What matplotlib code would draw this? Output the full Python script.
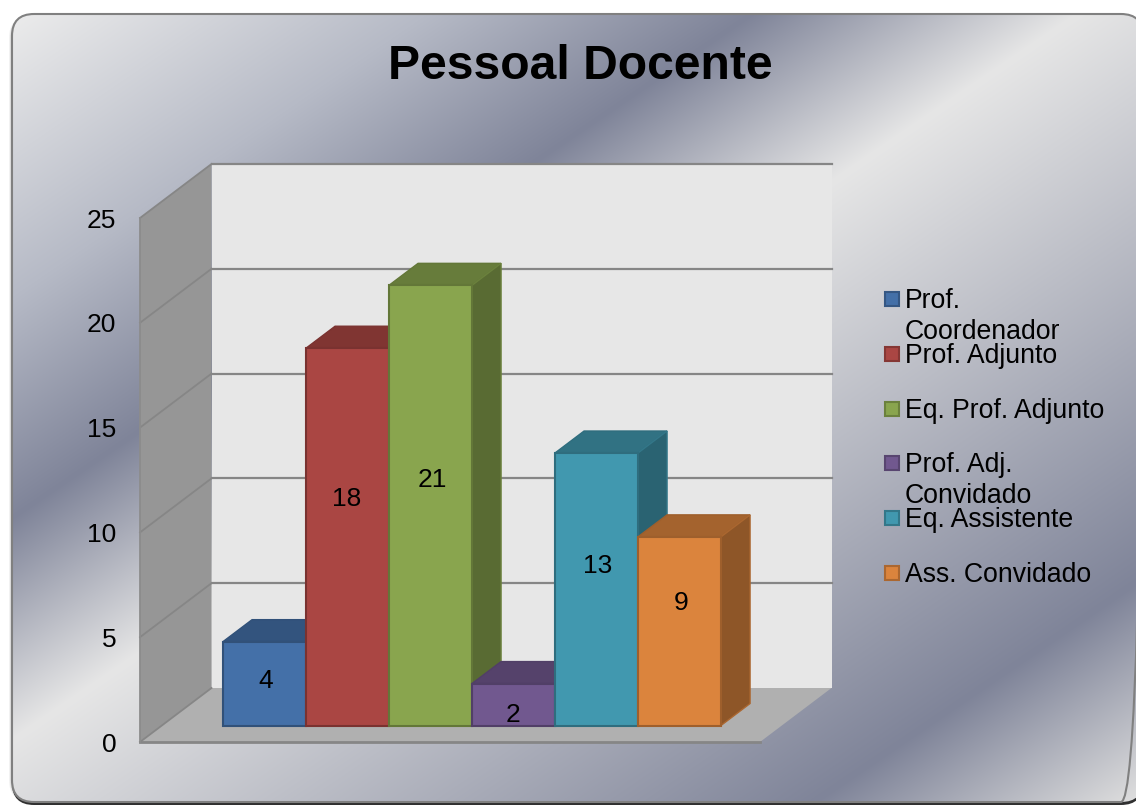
import numpy as np
import matplotlib
matplotlib.use("Agg")
import matplotlib.pyplot as plt
from matplotlib.colors import to_rgb
from matplotlib.patches import FancyBboxPatch, Polygon
from matplotlib.transforms import Affine2D, IdentityTransform

plt.rcParams['font.family'] = ['Liberation Sans', 'DejaVu Sans']

TITLE = "Pessoal Docente"
series_names = ["Prof. Coordenador", "Prof. Adjunto", "Eq. Prof. Adjunto",
                "Prof. Adj. Convidado", "Eq. Assistente", "Ass. Convidado"]
legend_lines = [["Prof.", "Coordenador"], ["Prof. Adjunto"], ["Eq. Prof. Adjunto"],
                ["Prof. Adj.", "Convidado"], ["Eq. Assistente"], ["Ass. Convidado"]]
values = [4, 18, 21, 2, 13, 9]
label_heights = [2.1, 10.8, 11.7, 0.52, 7.6, 5.86]
label_shift = [0.02, -0.01, 0.02, 0.0, 0.01, 0.02]
y_ticks = [0, 5, 10, 15, 20, 25]
colors = ["#4470A8", "#AA4643", "#89A54E", "#71588F", "#4198AF", "#DB843D"]

W, H = 1136, 805
fig = plt.figure(figsize=(W / 100, H / 100), dpi=100, facecolor="white")

# ---------- background panel ----------
bg = fig.add_axes([0, 0, 1, 1], zorder=0)
bg.set_xlim(0, W)
bg.set_ylim(H, 0)
bg.axis("off")

stops_t = [35, 450, 775, 1100, 1995, 2312]
stops_c = ["#ececec", "#b6bac6", "#7f8499", "#e6e6e6", "#7f8499", "#dedede"]
xx, yy = np.meshgrid(np.arange(W) + .5, np.arange(H) + .5)
tt = xx + 1.47 * yy
rgb = np.stack([np.interp(tt, stops_t, [to_rgb(c)[k] for c in stops_c]) for k in range(3)], axis=-1)

style = "round,pad=0,rounding_size=22"
for off, col, a in [(-3, "#000000", .05), (-2, "#000000", .07), (-1, "#000000", .10)]:
    bg.add_patch(FancyBboxPatch((12 + off, 14 + 2), 1131, 786, boxstyle=style, fc=col, ec="none", alpha=a))
bg.add_patch(FancyBboxPatch((12, 14 + 3), 1131, 788, boxstyle=style, fc="#303030", ec="none"))
panel = FancyBboxPatch((12, 14), 1131, 788, boxstyle=style, fc="none", ec="#808080", lw=1.5, zorder=3)
bg.add_patch(panel)
im = bg.imshow(rgb, extent=(0, W, H, 0), aspect="auto", zorder=2, interpolation="bilinear")
im.set_clip_path(panel)
bg.set_xlim(0, W)
bg.set_ylim(H, 0)

bg.text(580, 79, TITLE, fontsize=34.6, fontweight="bold", ha="center", va="baseline", color="black", zorder=5)

# ---------- legend ----------
for i, (lines, c) in enumerate(zip(legend_lines, colors)):
    cy = 299 + i * 54.8
    bg.add_patch(plt.Rectangle((885, cy - 7), 14, 14, fc=c, ec=np.array(to_rgb(c)) * .78, lw=1.5, zorder=5))
    for j, ln in enumerate(lines):
        bg.text(905, cy + 9 + j * 31, ln, fontsize=19.2, ha="left", va="baseline", color="black", zorder=5)

# ---------- chart ----------
ax = fig.add_axes([140 / W, (H - 742) / H, 620 / W, 524 / H], zorder=1)
ax.patch.set_visible(False)
for s in ax.spines.values():
    s.set_visible(False)
xl, xr = (140 - 242.6) / 83, (760 - 242.6) / 83
ax.set_xlim(xl, xr)
ax.set_ylim(0, 25)
ax.set_xticks([])
ax.set_yticks(y_ticks)
ax.tick_params(axis="y", length=0, pad=17, labelsize=19)

DEPTH = np.array([71.5, 54.0])
BAR_FRONT, BAR_BACK = 16.5 / 54, 38.5 / 54


def P(x, v, d):
    return tuple(ax.transData.transform((x, v)) + d * DEPTH)


def poly(pts, fc, ec="none", lw=0, z=1):
    ax.add_patch(Polygon(pts, closed=True, fc=fc, ec=ec, lw=lw, transform=IdentityTransform(),
                         zorder=z, clip_on=False, joinstyle="miter"))


def seg(a, b, c, lw, z):
    ax.add_line(plt.Line2D([a[0], b[0]], [a[1], b[1]], color=c, lw=lw, transform=IdentityTransform(),
                           zorder=z, clip_on=False))


poly([P(xl, 0, 1), P(xr, 0, 1), P(xr, 25, 1), P(xl, 25, 1)], "#e7e7e7", z=1)
poly([P(xl, 0, 0), P(xl, 0, 1), P(xl, 25, 1), P(xl, 25, 0)], "#969696", z=1)
poly([P(xl, 0, 0), P(xr, 0, 0), P(xr, 0, 1), P(xl, 0, 1)], "#b0b0b0", z=1)
for t in y_ticks:
    if t > 0:
        seg(P(xl, t, 1), P(xr, t, 1), "#868686", 1.6, 1.5)
    seg(P(xl, t, 0), P(xl, t, 1), "#868686", 1.3, 1.5)
seg(P(xl, 0, 0), P(xr, 0, 0), "#868686", 2, 1.6)
seg(P(xl, 0, 0), P(xl, 25, 0), "#8c8c8c", 1.3, 1.6)

front = ax.transData + Affine2D().translate(*(BAR_FRONT * DEPTH))
for i, (v, c) in enumerate(zip(values, colors)):
    base = np.array(to_rgb(c))
    z = 2 + i
    edge = base * .72
    x0, x1 = i - .5, i + .5
    poly([P(x0, v, BAR_FRONT), P(x1, v, BAR_FRONT), P(x1, v, BAR_BACK), P(x0, v, BAR_BACK)],
         base * .75, ec=edge, lw=1, z=z)
    poly([P(x1, 0, BAR_FRONT), P(x1, 0, BAR_BACK), P(x1, v, BAR_BACK), P(x1, v, BAR_FRONT)],
         base * .65, ec=base * .78, lw=1, z=z + .1)
    ax.bar(i, v, width=1, color=c, edgecolor=edge, linewidth=1.5, transform=front, zorder=z + .2, clip_on=False)
    ax.text(i + label_shift[i], label_heights[i], str(v), transform=front, fontsize=19, ha="center", va="center",
            color="black", zorder=20, clip_on=False)

ax.set_xlim(xl, xr)
ax.set_ylim(0, 25)

fig.savefig("out.png", dpi=100, facecolor="white")
